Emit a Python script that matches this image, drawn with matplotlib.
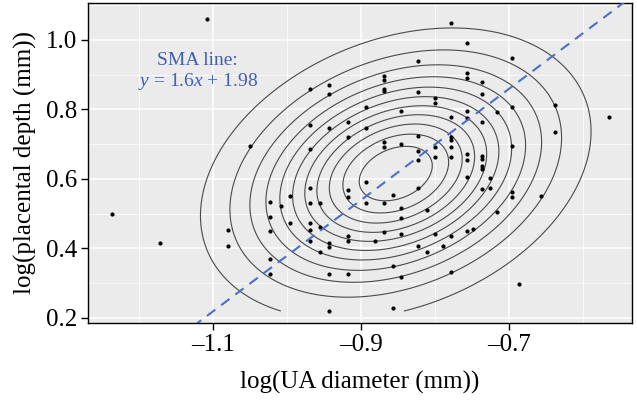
import numpy as np
import matplotlib
matplotlib.use("Agg")
import matplotlib.pyplot as plt
from matplotlib.ticker import FixedLocator

plt.rcParams['font.family'] = ['Liberation Serif', 'DejaVu Serif']
plt.rcParams['mathtext.fontset'] = 'custom'
plt.rcParams['mathtext.it'] = 'Liberation Serif:italic'
plt.rcParams['mathtext.rm'] = 'Liberation Serif'

# ---- data ----
ua_diameter = [
    -1.237, -1.172, -1.109, -1.080, -1.080, -1.051, -1.024, -1.024, -1.024, -1.024,
    -1.024, -1.009, -0.997, -0.997, -0.970, -0.970, -0.970, -0.970, -0.970, -0.970,
    -0.970, -0.970, -0.956, -0.956, -0.956, -0.944, -0.944, -0.944, -0.944, -0.944,
    -0.944, -0.944, -0.918, -0.918, -0.918, -0.918, -0.918, -0.918, -0.918, -0.894,
    -0.894, -0.894, -0.894, -0.882, -0.870, -0.870, -0.870, -0.870, -0.870, -0.870,
    -0.870, -0.870, -0.857, -0.857, -0.857, -0.847, -0.847, -0.847, -0.847, -0.847,
    -0.847, -0.824, -0.824, -0.824, -0.824, -0.824, -0.824, -0.824, -0.811, -0.811,
    -0.801, -0.801, -0.801, -0.801, -0.801, -0.790, -0.779, -0.779, -0.779, -0.779,
    -0.779, -0.779, -0.779, -0.779, -0.757, -0.757, -0.757, -0.757, -0.757, -0.757,
    -0.757, -0.757, -0.757, -0.749, -0.737, -0.737, -0.737, -0.737, -0.737, -0.737,
    -0.737, -0.737, -0.726, -0.726, -0.717, -0.717, -0.697, -0.697, -0.697, -0.697,
    -0.697, -0.687, -0.657, -0.639, -0.639, -0.566,
]
placental_depth = [
    0.499, 0.416, 1.060, 0.453, 0.407, 0.695, 0.534, 0.491, 0.450, 0.370,
    0.327, 0.522, 0.551, 0.473, 0.859, 0.755, 0.686, 0.574, 0.531, 0.473,
    0.453, 0.422, 0.531, 0.462, 0.390, 0.871, 0.845, 0.747, 0.416, 0.404,
    0.327, 0.220, 0.764, 0.721, 0.568, 0.548, 0.436, 0.422, 0.327, 0.807,
    0.747, 0.591, 0.531, 0.422, 0.896, 0.885, 0.859, 0.853, 0.706, 0.692,
    0.531, 0.447, 0.554, 0.350, 0.229, 0.796, 0.701, 0.517, 0.488, 0.442,
    0.318, 0.940, 0.850, 0.724, 0.681, 0.655, 0.574, 0.407, 0.511, 0.390,
    0.833, 0.819, 0.692, 0.663, 0.442, 0.407, 1.049, 0.778, 0.721, 0.712,
    0.692, 0.663, 0.436, 0.332, 0.991, 0.905, 0.891, 0.796, 0.776, 0.672,
    0.655, 0.606, 0.450, 0.456, 0.879, 0.845, 0.764, 0.666, 0.658, 0.637,
    0.629, 0.571, 0.603, 0.574, 0.793, 0.505, 0.948, 0.807, 0.695, 0.563,
    0.548, 0.298, 0.551, 0.813, 0.735, 0.778,
]
sma_slope = 1.6
sma_intercept = 1.98
x_ticks = [-1.1, -0.9, -0.7]
y_ticks = [0.2, 0.4, 0.6, 0.8, 1.0]
x_label = "log(UA diameter (mm))"
y_label = "log(placental depth (mm))"
n_contours = 11

x = np.array(ua_diameter)
y = np.array(placental_depth)

# ---- smooth bivariate density fitted to the points ----
mu = np.array([x.mean(), y.mean()])
cov = np.cov(np.vstack([x, y]))
icov = np.linalg.inv(cov)
gx = np.linspace(x.min(), x.max(), 150)
gy = np.linspace(y.min(), y.max(), 150)
GX, GY = np.meshgrid(gx, gy)
D = np.stack([GX - mu[0], GY - mu[1]], axis=-1)
q = np.einsum('...i,ij,...j->...', D, icov, D)
zmax = 1 / (2 * np.pi * np.sqrt(np.linalg.det(cov)))
z = zmax * np.exp(-0.5 * q)
levels = np.linspace(0, zmax, n_contours + 2)[1:-1]

# ---- figure ----
fig = plt.figure(figsize=(6.37, 4.0), dpi=100)
ax = fig.add_axes([0.138, 0.1925, 0.854, 0.80])
ax.set_facecolor('#EBEBEB')

xlim = (-1.2696, -0.5345)
ylim = (0.1856, 1.106)
ax.set_xlim(*xlim)
ax.set_ylim(*ylim)

ax.xaxis.set_major_locator(FixedLocator(x_ticks))
ax.yaxis.set_major_locator(FixedLocator(y_ticks))
ax.xaxis.set_minor_locator(FixedLocator([-1.2, -1.0, -0.8, -0.6]))
ax.yaxis.set_minor_locator(FixedLocator([0.3, 0.5, 0.7, 0.9, 1.1]))
ax.grid(which='major', color='white', lw=1.1)
ax.grid(which='minor', color='white', lw=0.55)
ax.set_axisbelow(True)

ax.contour(gx, gy, z, levels=levels, colors='#4a4a4a', linewidths=0.8, zorder=2)
ax.scatter(x, y, s=9, color='black', zorder=3, linewidths=0)

xl = np.array(xlim)
ax.plot(xl, sma_slope * xl + sma_intercept, color='#4A70C8', lw=1.5,
        dashes=(5, 3.5), zorder=4)

ax.text(-1.121, 0.942, "SMA line:", color='#3F5FB8', fontsize=14,
        ha='center', va='center')
ax.text(-1.121, 0.879, r"$y$ = 1.6$x$ + 1.98", color='#3F5FB8', fontsize=14,
        ha='center', va='center')

for s in ax.spines.values():
    s.set_color('black')
    s.set_linewidth(1.0)

ax.tick_params(which='major', length=5, width=1, color='black', labelsize=18,
               labelcolor='black', pad=3)
ax.tick_params(which='minor', length=0)
ax.set_xticklabels(["\u20131.1", "\u20130.9", "\u20130.7"])
ax.set_yticklabels(["0.2", "0.4", "0.6", "0.8", "1.0"])
ax.set_xlabel(x_label, fontsize=18, labelpad=11)
ax.set_ylabel(y_label, fontsize=18, labelpad=6)

fig.savefig("out.png", dpi=100)
